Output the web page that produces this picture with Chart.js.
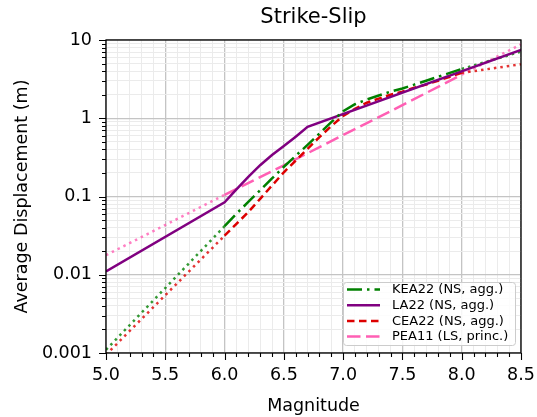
<!DOCTYPE html>
<html>
<head>
<meta charset="utf-8">
<script src="https://cdn.jsdelivr.net/npm/chart.js@4.4.0/dist/chart.umd.min.js"></script>
<style>
  html, body { margin: 0; padding: 0; background: #fff; }
</style>
</head>
<body>
<canvas id="chart" width="537" height="417"></canvas>
<script>
const chartTitle = 'Strike-Slip';
const xAxisTitle = 'Magnitude';
const yAxisTitle = 'Average Displacement (m)';
const legendLabels = ['KEA22 (NS, agg.)', 'LA22 (NS, agg.)', 'CEA22 (NS, agg.)', 'PEA11 (LS, princ.)'];

const xTickLabels = ['5.0', '5.5', '6.0', '6.5', '7.0', '7.5', '8.0', '8.5'];
const yTickLabels = ['0.001', '0.01', '0.1', '1', '10'];

// magnitudes
const magLow = [5.0, 6.0];
const magHigh = [8.0, 8.5];
const magMid = [6.0, 6.1, 6.2, 6.3, 6.4, 6.5, 6.6, 6.7, 6.8, 6.9, 7.0,
                7.1, 7.2, 7.3, 7.4, 7.5, 7.6, 7.7, 7.8, 7.9, 8.0];

// KEA22 (m)
const keaLow = [0.0011, 0.0417];
const keaMid = [0.0417, 0.0603, 0.0851, 0.120, 0.170, 0.240, 0.331, 0.457, 0.638, 0.891, 1.23,
                1.51, 1.74, 1.95, 2.19, 2.40, 2.69, 3.02, 3.39, 3.80, 4.27];
const keaHigh = [4.27, 7.1];

// LA22 (m)
const laMag = [5.0, 6.0, 6.1, 6.2, 6.3, 6.4, 6.5, 6.6, 6.7, 8.5];
const laVals = [0.011, 0.0841, 0.123, 0.178, 0.251, 0.339, 0.442, 0.582, 0.776, 7.45];

// CEA22 (m)
const ceaLow = [0.00095, 0.0316];
const ceaMid = [0.0316, 0.0447, 0.0631, 0.0933, 0.138, 0.204, 0.288, 0.407, 0.575, 0.794, 1.07,
                1.32, 1.58, 1.78, 2.00, 2.19, 2.45, 2.69, 3.02, 3.39, 3.80];
const ceaHigh = [3.80, 4.9];

// PEA11 (m)
const peaMag = [6.0, 6.5, 7.0, 7.5, 8.0];
const peaMid = [0.105, 0.25, 0.61, 1.47, 3.6];
const peaLow = [0.0178, 0.105];
const peaHigh = [3.6, 8.8];

const FONT = '"DejaVu Sans", sans-serif';
const GREEN = '#008000', PURPLE = '#800080', RED = '#dd0000', PINK = '#ff5fb4';
const DOT = [2.5, 4];

function pts(xs, ys) {
    return xs.map(function(x, i) { return { x: x, y: ys[i] }; });
}

function isMajorX(v) {
    return Math.abs(v * 2 - Math.round(v * 2)) < 1e-6;
}
function isMajorY(v) {
    const l = Math.log10(v);
    return Math.abs(l - Math.round(l)) < 1e-6;
}

const xTickValues = [];
for (let i = 0; i <= 35; i++) xTickValues.push(Math.round((5 + i / 10) * 10) / 10);
const yTickValues = [];
yTickLabels.forEach(function(lbl, i) {
    const d = parseFloat(lbl);
    yTickValues.push(d);
    if (i < yTickLabels.length - 1) {
        for (let k = 2; k <= 9; k++) yTickValues.push(d * k);
    }
});

function line(data, color, dash, width) {
    return {
        data: data,
        borderColor: color,
        borderDash: dash,
        borderWidth: width || 2.5,
        pointRadius: 0,
        tension: 0,
        fill: false,
        borderCapStyle: 'butt',
    };
}
function fade(hex, a) {
    const n = parseInt(hex.slice(1), 16);
    return 'rgba(' + (n >> 16) + ',' + ((n >> 8) & 255) + ',' + (n & 255) + ',' + a + ')';
}

const mainSets = [
    line(pts(magMid, keaMid), GREEN, [15, 5, 2.5, 5]),
    line(pts(laMag, laVals), PURPLE, []),
    line(pts(magMid, ceaMid), RED, [7.5, 4.5]),
    line(pts(peaMag, peaMid), PINK, [13.5, 5.5]),
];
const extSets = [
    line(pts(magLow, keaLow), fade(GREEN, 0.8), DOT),
    line(pts(magHigh, keaHigh), fade(GREEN, 0.8), DOT),
    line(pts(magLow, ceaLow), fade(RED, 0.8), DOT),
    line(pts(magHigh, ceaHigh), fade(RED, 0.8), DOT),
    line(pts(magLow, peaLow), fade(PINK, 0.8), DOT),
    line(pts(magHigh, peaHigh), fade(PINK, 0.8), DOT),
];

const decorPlugin = {
    id: 'decor',
    afterDraw: function(chart) {
        const ctx = chart.ctx;
        const a = chart.chartArea;
        const xs = chart.scales.x, ys = chart.scales.y;
        ctx.save();
        ctx.strokeStyle = '#000';
        ctx.lineWidth = 1.1;
        ctx.beginPath();
        xs.ticks.forEach(function(t) {
            const px = Math.round(xs.getPixelForValue(t.value)) + 0.5;
            ctx.moveTo(px, a.bottom);
            ctx.lineTo(px, a.bottom + (isMajorX(t.value) ? 7 : 4));
        });
        ys.ticks.forEach(function(t) {
            const py = Math.round(ys.getPixelForValue(t.value)) + 0.5;
            ctx.moveTo(a.left, py);
            ctx.lineTo(a.left - (isMajorY(t.value) ? 7 : 4), py);
        });
        ctx.stroke();
        ctx.lineWidth = 1.3;
        ctx.strokeRect(a.left, a.top, a.right - a.left, a.bottom - a.top);

        ctx.fillStyle = '#000';
        ctx.font = '21px ' + FONT;
        ctx.textAlign = 'center';
        ctx.textBaseline = 'middle';
        ctx.fillText(chartTitle, (a.left + a.right) / 2, 18);

        // legend box, bottom right inside the plot
        const bw = 172, bh = 63;
        const bx = a.right - 6 - bw, by = a.bottom - 8 - bh;
        ctx.fillStyle = 'rgba(255,255,255,0.85)';
        ctx.strokeStyle = '#cccccc';
        ctx.lineWidth = 1;
        ctx.beginPath();
        ctx.roundRect(bx + 0.5, by + 0.5, bw, bh, 3);
        ctx.fill();
        ctx.stroke();
        ctx.font = '13px ' + FONT;
        ctx.textAlign = 'left';
        mainSets.forEach(function(ds, i) {
            const y = by + 7.5 + i * 15.7;
            ctx.strokeStyle = ds.borderColor;
            ctx.lineWidth = ds.borderWidth;
            ctx.setLineDash(ds.borderDash);
            ctx.beginPath();
            ctx.moveTo(bx + 4, y);
            ctx.lineTo(bx + 37, y);
            ctx.stroke();
            ctx.setLineDash([]);
            ctx.fillStyle = '#000';
            ctx.fillText(legendLabels[i], bx + 49, y + 0.5);
        });
        ctx.restore();
    }
};

new Chart(document.getElementById('chart'), {
    type: 'line',
    data: { datasets: mainSets.concat(extSets) },
    options: {
        responsive: false,
        animation: false,
        devicePixelRatio: 1,
        layout: { padding: { top: 40, right: 16, left: 0, bottom: 0 } },
        plugins: {
            legend: { display: false },
            title: { display: false },
            tooltip: { enabled: false },
        },
        scales: {
            x: {
                type: 'linear',
                min: 5.0,
                max: 8.5,
                afterBuildTicks: function(scale) {
                    scale.ticks = xTickValues.map(function(v) { return { value: v }; });
                },
                afterFit: function(scale) {
                    scale.height = 64;
                    scale.paddingLeft = 0;
                    scale.paddingRight = 0;
                },
                border: { display: false },
                grid: {
                    drawTicks: false,
                    color: function(c) { return isMajorX(c.tick.value) ? '#c4c4c4' : '#ebebeb'; },
                    lineWidth: function(c) { return isMajorX(c.tick.value) ? 1.3 : 1; },
                },
                ticks: {
                    autoSkip: false,
                    maxRotation: 0,
                    minRotation: 0,
                    padding: 12,
                    color: '#000',
                    font: { family: FONT, size: 17.5 },
                    callback: function(value) {
                        if (!isMajorX(value)) return '';
                        return xTickLabels[Math.round((value - 5) * 2)];
                    }
                },
                title: {
                    display: true,
                    text: xAxisTitle,
                    color: '#000',
                    font: { family: FONT, size: 17.5 },
                    padding: { top: 3.5, bottom: 0 },
                }
            },
            y: {
                type: 'logarithmic',
                min: 0.001,
                max: 10,
                afterBuildTicks: function(scale) {
                    scale.ticks = yTickValues.map(function(v) { return { value: v }; });
                },
                afterFit: function(scale) {
                    scale.width = 106;
                    scale.paddingTop = 0;
                    scale.paddingBottom = 0;
                },
                border: { display: false },
                grid: {
                    drawTicks: false,
                    color: function(c) { return isMajorY(c.tick.value) ? '#c4c4c4' : '#ebebeb'; },
                    lineWidth: function(c) { return isMajorY(c.tick.value) ? 1.3 : 1; },
                },
                ticks: {
                    autoSkip: false,
                    padding: 14,
                    color: '#000',
                    font: { family: FONT, size: 17.5 },
                    callback: function(value) {
                        if (!isMajorY(value)) return '';
                        return yTickLabels[Math.round(Math.log10(value)) + 3];
                    }
                },
                title: {
                    display: true,
                    text: yAxisTitle,
                    color: '#000',
                    font: { family: FONT, size: 17.5 },
                    padding: { top: 11.5, bottom: 0 },
                }
            }
        }
    },
    plugins: [decorPlugin]
});
</script>
</body>
</html>
